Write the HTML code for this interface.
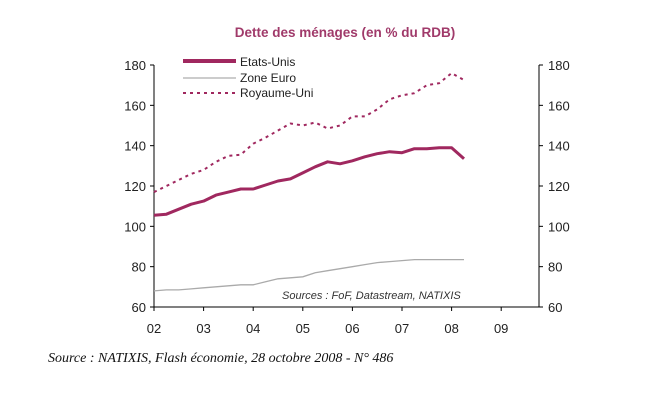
<!DOCTYPE html>
<html><head><meta charset="utf-8"><style>
body{margin:0;background:#fff;width:650px;height:406px;overflow:hidden}
svg{display:block;font-family:"Liberation Sans",sans-serif}
</style></head><body>
<svg id="c" width="650" height="406">
<text x="345" y="37" text-anchor="middle" font-size="13.5" font-weight="bold" fill="#a03a6a">Dette des ménages (en % du RDB)</text>
<g id="axes"></g><g id="series"></g>
<g>
<line x1="183" y1="61" x2="236" y2="61" stroke="#a0285f" stroke-width="4"/>
<text x="240" y="66" font-size="12" fill="#222">Etats-Unis</text>
<line x1="183" y1="78" x2="236" y2="78" stroke="#999" stroke-width="1"/>
<text x="240" y="82" font-size="12" fill="#222">Zone Euro</text>
<line x1="183" y1="93" x2="236" y2="93" stroke="#a0285f" stroke-width="2" stroke-dasharray="3,4"/>
<text x="240" y="97" font-size="12" fill="#222">Royaume-Uni</text>
</g>
<text x="282" y="299" font-size="11" font-style="italic" fill="#333">Sources :  FoF, Datastream, NATIXIS</text>
<text x="48" y="362" font-size="14" font-style="italic" fill="#111" font-family="Liberation Serif,serif">Source : NATIXIS, Flash économie, 28 octobre 2008 - N° 486</text>
</svg>
<script>
const yearLabels=["02","03","04","05","06","07","08","09"];
const yTicks=[60,80,100,120,140,160,180];
const usValues=[105.5,106,108.5,111,112.5,115.5,117,118.5,118.5,120.5,122.5,123.5,126.5,129.5,132,131,132.5,134.5,136,137,136.5,138.5,138.5,139,139,133.5];
const euroValues=[68,68.5,68.5,69,69.5,70,70.5,71,71,72.5,74,74.5,75,77,78,79,80,81,82,82.5,83,83.5,83.5,83.5,83.5,83.5];
const ukValues=[117,120,123,126,128,132,135,135.5,141,144,147.5,151,150,151.5,148.5,150,154.5,154.5,158,163,165,166,170,171,176,172.5];
const NS="http://www.w3.org/2000/svg";
const x=t=>154+t*49.6;
const y=v=>307-(v-60)*242/120;
const L=154,R=539;
function el(tag,attrs,parent){const e=document.createElementNS(NS,tag);for(const k in attrs)e.setAttribute(k,attrs[k]);parent.appendChild(e);return e;}
const ax=document.getElementById('axes');
let a=el('line',{x1:L,y1:y(180),x2:L,y2:y(60),stroke:'#000'},ax);


a=el('line',{x1:R,y1:y(180),x2:R,y2:y(60),stroke:'#000'},ax);


a=el('line',{x1:L,y1:y(60),x2:R,y2:y(60),stroke:'#000'},ax);


yTicks.forEach(v=>{
 el('line',{x1:L-4,y1:y(v),x2:L,y2:y(v),stroke:'#000'},ax);
 el('line',{x1:R,y1:y(v),x2:R+4,y2:y(v),stroke:'#000'},ax);
 let t=el('text',{x:L-8,y:y(v)+5,'text-anchor':'end','font-size':13,fill:'#222'},ax);t.textContent=v;
 
 
 t=el('text',{x:R+9,y:y(v)+5,'font-size':13,fill:'#222'},ax);t.textContent=v;
 
 
});
yearLabels.forEach((lb,i)=>{
 el('line',{x1:x(i),y1:y(60),x2:x(i),y2:y(60)+4,stroke:'#000'},ax);
 const t=el('text',{x:x(i),y:333,'text-anchor':'middle','font-size':13,fill:'#222'},ax);t.textContent=lb;
 
 
});
const sg=document.getElementById('series');
function pts(arr){return arr.map((v,i)=>x(i*0.25).toFixed(1)+','+y(v).toFixed(1)).join(' ');}
let p=el('polyline',{points:pts(euroValues),fill:'none',stroke:'#aaa','stroke-width':1.3},sg);


p=el('polyline',{points:pts(ukValues),fill:'none',stroke:'#a0285f','stroke-width':2,'stroke-dasharray':'3,4'},sg);


p=el('polyline',{points:pts(usValues),fill:'none',stroke:'#a0285f','stroke-width':3,'stroke-linejoin':'round'},sg);


</script>
</body></html>
